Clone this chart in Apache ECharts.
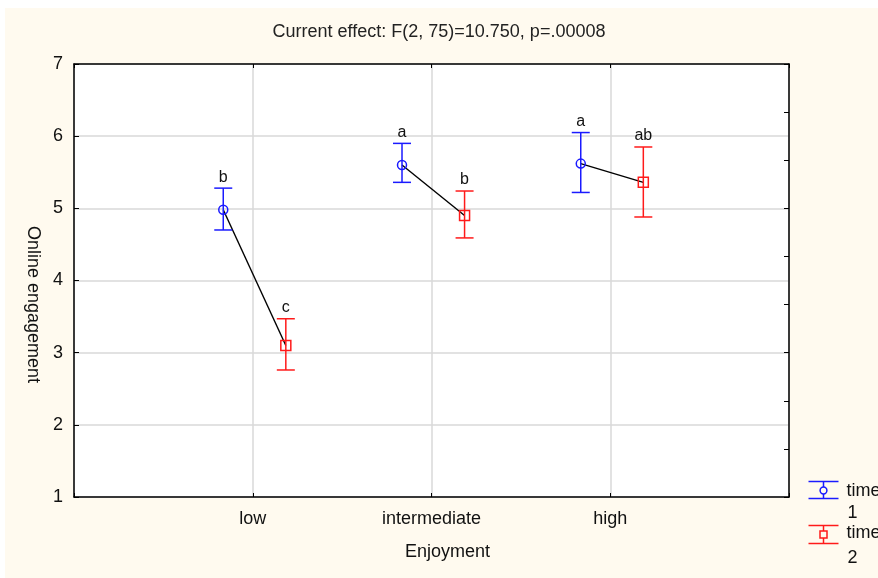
<!DOCTYPE html>
<html>
<head>
<meta charset="utf-8">
<script src="https://cdn.jsdelivr.net/npm/echarts@6/dist/echarts.min.js"></script>
<style>
  html, body { margin: 0; padding: 0; background: #ffffff; }
  #chart { width: 878px; height: 578px; }
</style>
</head>
<body>
<div id="chart"></div>
<script>
// categories of the x axis
const categories = ['low', 'intermediate', 'high']

// time 1 (blue, circles)
const time1Mean = [4.98, 5.60, 5.62]
const time1Lower = [4.70, 5.36, 5.22]
const time1Upper = [5.28, 5.90, 6.05]
const time1Letters = ['b', 'a', 'a']

// time 2 (red, squares)
const time2Mean = [3.10, 4.90, 5.36]
const time2Lower = [2.76, 4.59, 4.88]
const time2Upper = [3.47, 5.24, 5.85]
const time2Letters = ['c', 'b', 'ab']

const yTicks = [1, 2, 3, 4, 5, 6, 7]

const FONT = 'Liberation Sans, Arial, sans-serif'
const BLUE = '#1a1aff'
const RED = '#ff1a1a'
// small horizontal shift of each time point from the category centre
const OFFSET1 = -0.165
const OFFSET2 = 0.185

function errorData(offset, mean, lower, upper) {
  return mean.map((m, i) => [i + 1 + offset, m, lower[i], upper[i]])
}

function errorBarRenderer(color, shape, letters) {
  return function (params, api) {
    const x = api.value(0)
    const pMean = api.coord([x, api.value(1)])
    const pLo = api.coord([x, api.value(2)])
    const pHi = api.coord([x, api.value(3)])
    const cap = 9
    const st = {stroke: color, lineWidth: 1.5, fill: null}
    const marker = shape === 'circle'
      ? {type: 'circle', shape: {cx: pMean[0], cy: pMean[1], r: 4.5}, style: st}
      : {type: 'rect', shape: {x: pMean[0] - 5, y: pMean[1] - 5, width: 10, height: 10}, style: st}
    return {
      type: 'group',
      children: [
        {type: 'line', shape: {x1: pLo[0], y1: pLo[1], x2: pHi[0], y2: pHi[1]}, style: st},
        {type: 'line', shape: {x1: pHi[0] - cap, y1: pHi[1], x2: pHi[0] + cap, y2: pHi[1]}, style: st},
        {type: 'line', shape: {x1: pLo[0] - cap, y1: pLo[1], x2: pLo[0] + cap, y2: pLo[1]}, style: st},
        marker,
        {
          type: 'text',
          style: {
            x: pHi[0], y: pHi[1] - 3, text: letters[params.dataIndex],
            align: 'center', verticalAlign: 'bottom',
            font: '16px ' + FONT, fill: '#111',
          },
        },
      ],
    }
  }
}

const connectData = categories.map((c, i) => [i + 1 + OFFSET1, time1Mean[i], i + 1 + OFFSET2, time2Mean[i]])

const chart = echarts.init(document.getElementById('chart'), null, {renderer: 'canvas'})

const option = {
  backgroundColor: '#ffffff',
  animation: false,
  textStyle: {fontFamily: FONT},
  title: {
    text: 'Current effect: F(2, 75)=10.750, p=.00008',
    left: 'center',
    top: 18,
    textStyle: {fontFamily: FONT, fontSize: 18, fontWeight: 'normal', color: '#222'},
  },
  grid: {left: 74, right: 89, top: 64, bottom: 81, show: true, backgroundColor: '#ffffff', borderWidth: 0},
  graphic: [
    // cream frame behind everything
    {type: 'rect', z: -10, silent: true, shape: {x: 5, y: 8, width: 873, height: 570}, style: {fill: '#fffaef'}},
    // legend
    {type: 'group', left: 806, top: 479, children: [
      {type: 'line', shape: {x1: 0, y1: 0.5, x2: 30, y2: 0.5}, style: {stroke: BLUE, lineWidth: 1.5}},
      {type: 'line', shape: {x1: 0, y1: 17.5, x2: 30, y2: 17.5}, style: {stroke: BLUE, lineWidth: 1.5}},
      {type: 'line', shape: {x1: 15, y1: 0.5, x2: 15, y2: 17.5}, style: {stroke: BLUE, lineWidth: 1.5}},
      {type: 'circle', shape: {cx: 15, cy: 9.5, r: 3.4}, style: {stroke: BLUE, lineWidth: 1.5, fill: '#fffaef'}},
      {type: 'text', style: {x: 38, y: 10, text: 'time', font: '18px ' + FONT, fill: '#111', verticalAlign: 'middle'}},
      {type: 'text', style: {x: 39, y: 32, text: '1', font: '18px ' + FONT, fill: '#111', verticalAlign: 'middle'}},
    ]},
    {type: 'group', left: 806, top: 523, children: [
      {type: 'line', shape: {x1: 0, y1: 0.5, x2: 30, y2: 0.5}, style: {stroke: RED, lineWidth: 1.5}},
      {type: 'line', shape: {x1: 0, y1: 18.5, x2: 30, y2: 18.5}, style: {stroke: RED, lineWidth: 1.5}},
      {type: 'line', shape: {x1: 15, y1: 0.5, x2: 15, y2: 18.5}, style: {stroke: RED, lineWidth: 1.5}},
      {type: 'rect', shape: {x: 11.5, y: 6, width: 7, height: 7}, style: {stroke: RED, lineWidth: 1.5, fill: '#fffaef'}},
      {type: 'text', style: {x: 38, y: 8, text: 'time', font: '18px ' + FONT, fill: '#111', verticalAlign: 'middle'}},
      {type: 'text', style: {x: 39, y: 33, text: '2', font: '18px ' + FONT, fill: '#111', verticalAlign: 'middle'}},
    ]},
  ],
  xAxis: [
    {
      type: 'value', min: 0, max: categories.length + 1, interval: 1, position: 'bottom',
      name: 'Enjoyment', nameLocation: 'middle', nameGap: 46,
      nameTextStyle: {fontFamily: FONT, fontSize: 18, color: '#111', padding: [0, 0, 0, 32]},
      axisLine: {show: true, onZero: false, lineStyle: {color: '#000', width: 1.5}},
      axisTick: {show: true, inside: true, length: 4, lineStyle: {color: '#000'}},
      axisLabel: {
        margin: 13, fontSize: 18, fontFamily: FONT, color: '#111',
        formatter: v => categories[v - 1] || '',
      },
      splitLine: {show: true, lineStyle: {color: '#d8d8d8', width: 1.5}},
    },
    {
      type: 'value', min: 0, max: categories.length + 1, interval: 1, position: 'top',
      axisLine: {show: true, onZero: false, lineStyle: {color: '#000', width: 1.5}},
      axisTick: {show: true, inside: true, length: 4, lineStyle: {color: '#000'}},
      axisLabel: {show: false},
      splitLine: {show: false},
    },
  ],
  yAxis: [
    {
      type: 'value', min: yTicks[0], max: yTicks[yTicks.length - 1], interval: 1, position: 'left',
      name: 'Online engagement', nameLocation: 'middle', nameGap: 30, nameRotate: -90,
      nameTextStyle: {fontFamily: FONT, fontSize: 18, color: '#111', padding: [0, 0, 0, 48]},
      axisLine: {show: true, onZero: false, lineStyle: {color: '#000', width: 1.5}},
      axisTick: {show: true, inside: true, length: 5, lineStyle: {color: '#000'}},
      axisLabel: {margin: 11, fontSize: 18, fontFamily: FONT, color: '#111'},
      splitLine: {show: true, lineStyle: {color: '#d8d8d8', width: 1.5}},
    },
    {
      type: 'value', min: 0, max: 9, interval: 1, position: 'right',
      axisLine: {show: true, onZero: false, lineStyle: {color: '#000', width: 1.5}},
      axisTick: {show: true, inside: true, length: 5, lineStyle: {color: '#000'}},
      axisLabel: {show: false},
      splitLine: {show: false},
    },
  ],
  series: [
    {
      type: 'custom', name: 'connect', xAxisIndex: 0, yAxisIndex: 0, z: 2,
      data: connectData,
      renderItem: (params, api) => {
        const a = api.coord([api.value(0), api.value(1)])
        const b = api.coord([api.value(2), api.value(3)])
        return {type: 'line', shape: {x1: a[0], y1: a[1], x2: b[0], y2: b[1]}, style: {stroke: '#000', lineWidth: 1.4}}
      },
    },
    {
      type: 'custom', name: 'time 1', xAxisIndex: 0, yAxisIndex: 0, z: 3,
      data: errorData(OFFSET1, time1Mean, time1Lower, time1Upper),
      renderItem: errorBarRenderer(BLUE, 'circle', time1Letters),
    },
    {
      type: 'custom', name: 'time 2', xAxisIndex: 0, yAxisIndex: 0, z: 3,
      data: errorData(OFFSET2, time2Mean, time2Lower, time2Upper),
      renderItem: errorBarRenderer(RED, 'square', time2Letters),
    },
  ],
}

chart.setOption(option)
</script>
</body>
</html>
